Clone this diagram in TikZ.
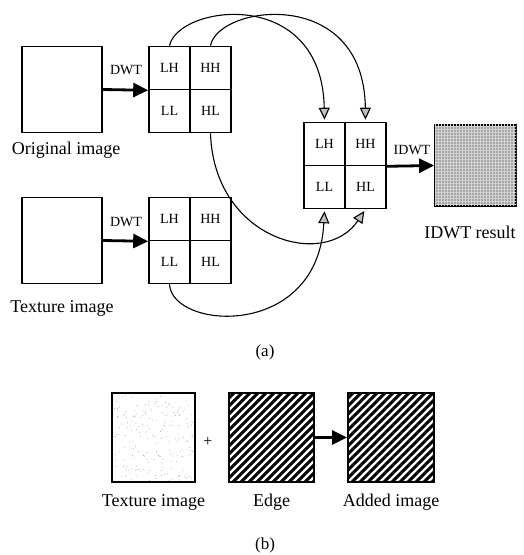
\documentclass[tikz,border=0pt]{standalone}
\usepackage{fontspec}
\setmainfont{Liberation Serif}
\usetikzlibrary{arrows.meta,patterns,calc}

\begin{document}
\begin{tikzpicture}[x=1pt,y=1pt,
	img/.style={draw,line width=1.8pt,minimum width=80pt,minimum height=86pt,inner sep=0pt},
	cell/.style={draw,line width=1.6pt,minimum width=41pt,minimum height=43pt,inner sep=0pt,font=\fontsize{14}{16}\selectfont},
	lbl/.style={font=\fontsize{18}{20}\selectfont},
	tag/.style={font=\fontsize{14}{16}\selectfont},
	fat/.style={line width=2.8pt,-{Triangle[length=15pt,width=14pt]}},
	band/.style={line width=1.1pt,-{Triangle[length=12pt,width=11pt,fill=gray!50]},shorten >=2pt},
	stripe/.style={line width=3pt},
	hatch/.style={img,minimum width=85pt,minimum height=89pt,path picture={
		\foreach \k in {0,...,23}
			\draw[stripe] ($(path picture bounding box.south west)+(\k*8-92,0)$) -- ++(95,95);}},
	speckle/.style={img,minimum width=83pt,minimum height=89pt,path picture={
		\pgfmathsetseed{11}
		\foreach \i in {1,...,200}
			\fill[gray!70] ($(path picture bounding box.center)+(rand*40,rand*43)$) circle (0.5pt);}}]
\useasboundingbox (0,0) rectangle (524,555);

% (a) original image and its subbands
\node[img,name=orig] at (62,465.5) {};
\node[lbl] at (66,405) {Original image};
\node[cell,name=o-LH] at (169.5,487) {LH};
\node[cell,name=o-HH] at (210.5,487) {HH};
\node[cell,name=o-LL] at (169.5,444) {LL};
\node[cell,name=o-HL] at (210.5,444) {HL};
\draw[fat] (orig.east) -- (o-LH.south west);
\node[tag] at (126,485) {DWT};

% texture image and its subbands
\node[img,name=tex] at (62,314.5) {};
\node[lbl] at (62,247) {Texture image};
\node[cell,name=t-LH] at (169.5,336) {LH};
\node[cell,name=t-HH] at (210.5,336) {HH};
\node[cell,name=t-LL] at (169.5,293) {LL};
\node[cell,name=t-HL] at (210.5,293) {HL};
\draw[fat] (tex.east) -- (t-LH.south west);
\node[tag] at (126,333) {DWT};

% combined subbands and result
\node[cell,name=c-LH] at (324.5,411) {LH};
\node[cell,name=c-HH] at (365.5,411) {HH};
\node[cell,name=c-LL] at (324.5,368) {LL};
\node[cell,name=c-HL] at (365.5,368) {HL};
\node[img,name=res,minimum width=81pt,minimum height=81pt,fill=gray!70,
	postaction={pattern=grid,pattern color=white!65!gray}] at (475.5,389.5) {};
\draw[fat] (c-HH.south east) -- (res.west);
\node[tag] at (412,405) {IDWT};
\node[lbl] at (470,323) {IDWT result};

% subband connections
\draw[band] (o-LH.north) .. controls (178,550) and (322,570) .. (c-LH.north);
\draw[band] (o-HH.north) .. controls (218,550) and (364,570) .. (c-HH.north);
\draw[band] (o-HL.south) .. controls (214,315) and (325,285) .. (c-HL.south);
\draw[band] (t-LL.south) .. controls (172,225) and (318,215) .. (c-LL.south);

\node[lbl,font=\fontsize{17}{19}\selectfont] at (265,203) {(a)};

% (b) adding the edge
\node[speckle,name=tex2] at (153.5,117.5) {};
\node[lbl] at (153.5,53) {Texture image};
\node[font=\fontsize{16}{18}\selectfont] at (208,113) {+};
\node[hatch,name=edge] at (271.5,117.5) {};
\node[lbl] at (271.5,53) {Edge};
\node[hatch,name=added,minimum width=86pt] at (391,117.5) {};
\node[lbl] at (391,53) {Added image};
\draw[fat] (edge.east) -- (added.west);

\node[lbl,font=\fontsize{17}{19}\selectfont] at (265,10) {(b)};
\end{tikzpicture}
\end{document}
